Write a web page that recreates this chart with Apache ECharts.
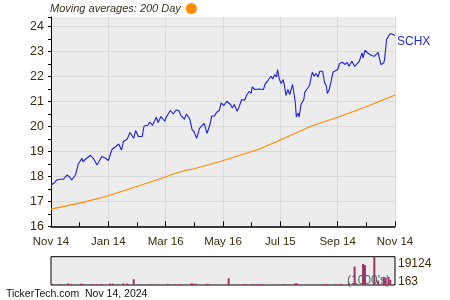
<!DOCTYPE html>
<html>
<head>
<meta charset="utf-8">
<script src="https://cdn.jsdelivr.net/npm/echarts@6/dist/echarts.min.js"></script>
<style>
  html, body { margin: 0; padding: 0; background: #ffffff; }
  #chart { width: 450px; height: 300px; }
</style>
</head>
<body>
<div id="chart"></div>
<script>
// X tick labels (every 61 days from Nov 14, 2023)
const tickLabels = ['Nov 14', 'Jan 14', 'Mar 16', 'May 16', 'Jul 15', 'Sep 14', 'Nov 14'];

// SCHX closing price: days since Nov 14, 2023 and value
const priceDays = [0,3,6,10,13,17,20,22,26,29,33,34,38,42,45,49,51,54,58,61,
  65,68,72,75,77,81,84,88,90,93,97,99,103,105,108,112,114,117,121,123,
  127,130,133,136,138,140,142,144,146,148,150,152,155,158,160,163,165,166,169,171,
  174,176,179,181,184,187,191,193,195,198,200,203,206,208,211,213,214,217,221,223,
  226,228,231,234,236,238,240,241,243,245,247,248,250,252,254,255,257,259,260,261,
  263,264,266,269,270,272,275,277,278,280,282,284,286,288,289,291,293,294,296,298,
  300,302,305,307,309,310,313,315,317,320,323,325,328,331,332,334,337,339,341,344,
  348,349,351,353,354,355,357,359,361,364,366];
const priceValues = [17.65,17.72,17.85,17.88,17.88,18.05,17.96,17.85,18.05,18.49,18.72,18.59,18.72,18.84,18.72,18.45,18.52,18.79,18.72,18.63,
  19.08,19.16,19.29,19.05,19.39,19.48,19.75,19.52,19.83,19.59,19.59,20.01,20.04,20.17,20.04,20.36,20.15,20.39,20.20,20.39,
  20.63,20.49,20.65,20.63,20.45,20.52,20.28,20.49,20.39,20.25,19.88,19.79,19.52,19.92,19.88,20.12,20.15,19.72,20.05,20.41,
  20.41,20.55,20.63,20.93,20.83,21.00,20.87,20.73,20.87,20.60,20.77,21.07,21.04,21.23,21.40,21.31,21.57,21.47,21.49,21.44,
  21.47,21.71,21.84,22.00,21.89,22.07,21.97,22.27,21.87,21.71,21.87,21.71,21.23,21.47,21.27,21.40,21.67,21.20,20.93,20.37,
  20.53,20.37,20.87,21.07,21.36,21.47,21.63,22.00,22.16,22.00,22.11,21.97,22.20,22.16,22.20,21.76,21.60,21.31,21.47,21.80,
  22.16,22.16,22.27,22.51,22.47,22.56,22.47,22.56,22.40,22.60,22.40,22.33,22.60,22.93,22.73,23.04,22.93,23.00,22.83,22.80,
  22.96,22.80,22.47,22.40,22.53,22.69,23.47,23.60,23.71,23.67,23.63];

// 200 day moving average
const maDays = [0,34,60,88,121,130,144,151,181,221,244,277,305,334,366];
const maValues = [16.69,16.96,17.21,17.55,17.96,18.09,18.25,18.29,18.60,19.08,19.45,20.01,20.36,20.76,21.25];

// Volume (1000's)
const volDays = [2,10,18,21,32,34,44,49,54,63,66,77,81,88,95,105,113,124,132,137,
  149,151,154,166,168,189,205,208,214,218,222,225,247,260,261,263,291,293,303,308,
  317,323,332,334,344,348,354,356,359,361];
const volValues = [600,500,1000,800,900,700,600,500,600,1000,900,1100,1000,3900,500,500,500,800,500,700,
  1000,1000,800,800,700,4500,600,500,700,500,600,500,500,900,1200,700,600,700,600,800,
  1500,12400,14200,13500,19124,3000,5400,5000,5400,3500];
const volLabels = [163, 19124];

const pricePts = priceDays.map((d, i) => [d, priceValues[i]]);
const maPts = maDays.map((d, i) => [d, maValues[i]]);
const volPts = volDays.map((d, i) => [d, volValues[i]]);

const txt = '#3a2c0c';
const font = 'Liberation Sans, Arial, sans-serif';

const chart = echarts.init(document.getElementById('chart'), null, { renderer: 'canvas' });
chart.setOption({
  animation: false,
  backgroundColor: '#ffffff',
  textStyle: { fontFamily: font },
  title: [{
    text: 'TickerTech.com  Nov 14, 2024',
    left: 6, top: 288.5, padding: 0,
    textStyle: { fontSize: 10.5, fontWeight: 'normal', color: '#111', fontFamily: font }
  }],
  legend: {
    data: ['Moving averages: 200 Day'],
    left: 50, top: 3, padding: 0,
    align: 'right',
    icon: 'circle',
    itemWidth: 11, itemHeight: 11, itemGap: 6,
    selectedMode: false,
    textStyle: { fontSize: 11, fontStyle: 'italic', color: '#3a3020', fontFamily: font }
  },
  grid: [
    { left: 51, right: 55, top: 17, bottom: 73.7, show: true, backgroundColor: '#ececec', borderWidth: 0 },
    { left: 51, right: 55, top: 256.7, bottom: 15, show: true, backgroundColor: '#ececec', borderColor: '#000', borderWidth: 1 }
  ],
  xAxis: [{
    gridIndex: 0, type: 'value', min: 0, max: 366, interval: 61,
    axisLine: { show: true, onZero: false, lineStyle: { color: '#000', width: 1.5 } },
    axisTick: { show: true, inside: true, length: 5, lineStyle: { color: '#000' } },
    minorTick: { show: true, splitNumber: 2, length: 4, lineStyle: { color: '#000' } },
    splitLine: { show: true, lineStyle: { color: '#d9d9d9', width: 1 } },
    axisLabel: { margin: 10, fontSize: 11.5, color: txt, fontFamily: font,
      formatter: v => tickLabels[Math.round(v / 61)] }
  }, {
    gridIndex: 1, type: 'value', min: 0, max: 366, interval: 61,
    axisLine: { show: false }, axisTick: { show: false }, splitLine: { show: false },
    axisLabel: { show: false }
  }],
  yAxis: [{
    gridIndex: 0, type: 'value', min: 16, max: 24.37, interval: 1,
    axisLine: { show: true, onZero: false, lineStyle: { color: '#000', width: 1 } },
    axisTick: { show: true, inside: false, length: 3, lineStyle: { color: '#000' } },
    minorTick: { show: true, splitNumber: 2, length: 3, lineStyle: { color: '#000' } },
    splitLine: { show: true, showMaxLine: false, lineStyle: { color: '#d9d9d9', width: 1 } },
    axisLabel: { margin: 7, fontSize: 12.5, color: txt, fontFamily: font, showMaxLabel: false,
      formatter: v => (Number.isInteger(v) ? String(v) : '') }
  }, {
    gridIndex: 1, type: 'value', min: 0, max: 19124, position: 'right',
    axisLine: { show: false }, axisTick: { show: false }, splitLine: { show: false },
    axisLabel: {
      customValues: volLabels,
      margin: 3, fontSize: 12, color: txt, fontFamily: font,
      formatter: v => (v === volLabels[1] ? '{t|' + v + '}' : '{b|' + v + '}'),
      rich: {
        t: { fontSize: 12, color: txt, fontFamily: font, padding: [14, 0, 0, 0] },
        b: { fontSize: 12, color: txt, fontFamily: font, padding: [0, 0, 6, 0] }
      }
    }
  }],
  graphic: [{
    type: 'text', left: 347, top: 275, z: 1,
    style: { text: "(1000's)", fontSize: 12, fill: '#3f6e5c', fontFamily: font }
  }],
  series: [{
    name: 'Moving averages: 200 Day',
    type: 'line', xAxisIndex: 0, yAxisIndex: 0,
    data: maPts, showSymbol: false, symbol: 'none',
    color: '#ff8c00',
    lineStyle: { color: '#ff8c00', width: 1.2 },
    z: 3
  }, {
    name: 'SCHX',
    type: 'line', xAxisIndex: 0, yAxisIndex: 0,
    data: pricePts, showSymbol: false, symbol: 'none',
    color: '#1e1ee0',
    lineStyle: { color: '#1e1ee0', width: 1.1 },
    endLabel: { show: true, formatter: 'SCHX', color: '#2626d6', fontSize: 12, fontFamily: font, distance: 2, offset: [0, 6] },
    z: 4
  }, {
    name: 'Volume',
    type: 'bar', xAxisIndex: 1, yAxisIndex: 1,
    data: volPts, barWidth: 2,
    itemStyle: { color: '#993366' },
    z: 5
  }]
});
</script>
</body>
</html>
